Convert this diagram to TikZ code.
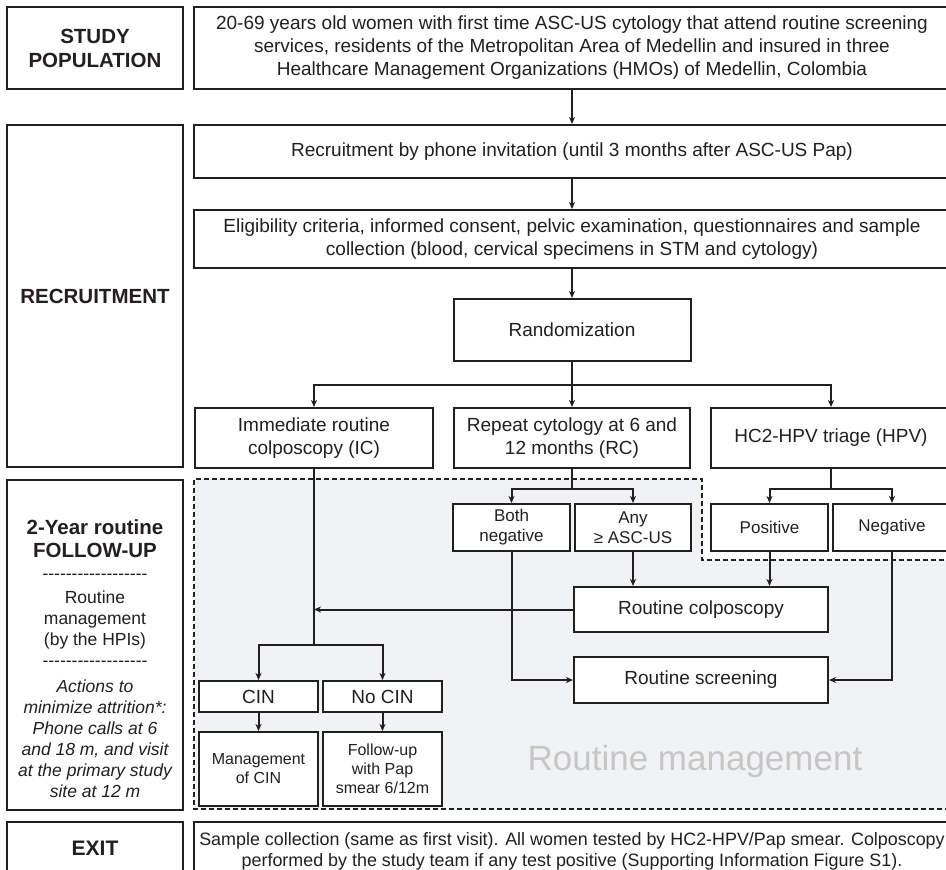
\documentclass[tikz,border=0pt]{standalone}
\usepackage{fontspec}
\setmainfont{Liberation Sans}
\usetikzlibrary{arrows.meta}
\newcommand\hh{\mbox{-}}
\definecolor{ink}{HTML}{231F20}
\definecolor{bgray}{HTML}{F1F2F4}
\definecolor{wm}{HTML}{C6C6C6}
\begin{document}
\begin{tikzpicture}[x=1pt,y=-1pt,
  box/.style={draw=ink, line width=2pt, fill=white, inner sep=0pt, align=center, text=ink, font=\fontsize{19}{23}\selectfont},
  sbox/.style={box, font=\fontsize{17}{20}\selectfont},
  tbox/.style={box, font=\fontsize{16}{19}\selectfont},
  head/.style={box, font=\fontsize{20.5}{24}\selectfont\bfseries},
  arr/.style={draw=ink, line width=2pt, -{Stealth[length=7pt,width=6pt,inset=2pt]}},
  ln/.style={draw=ink, line width=2pt},
  txt/.style={inner sep=0pt, align=center, text=ink}]
\useasboundingbox (0,0) rectangle (946,870);
% routine management region
\fill[bgray] (194,479) -- (702,479) -- (702,560) -- (960,560) -- (960,809) -- (194,809) -- cycle;
\draw[ink, line width=1.2pt, dash pattern=on 5pt off 3pt] (960,560) -- (702,560) -- (702,479) -- (194,479) -- (194,809) -- (960,809);
\node[txt, text=wm, font=\fontsize{35}{40}\selectfont] (wmtext) at (695,761) {Routine management};

% left column
\node[head, minimum width=176pt, minimum height=82pt] (L1) at (95,48) {STUDY\\POPULATION};
\node[head, minimum width=176pt, minimum height=342pt] (L2) at (95,296) {RECRUITMENT};
\node[box, minimum width=176pt, minimum height=330pt] (L3) at (95,645) {};
\node[head, minimum width=176pt, minimum height=58pt] (L4) at (95,851) {};
\node[txt, font=\fontsize{21}{24}\selectfont\bfseries] (exitlbl) at (95,848) {EXIT};
\node[txt, font=\fontsize{20.5}{23}\selectfont\bfseries] (fu1) at (95,538.5) {2-Year routine\\FOLLOW-UP};
\node[txt, font=\fontsize{17.5}{21}\selectfont] (dsh1) at (95,577) {\hh\hh\hh\hh\hh\hh\hh\hh\hh\hh\hh\hh\hh\hh\hh\hh\hh\hh};
\node[txt, font=\fontsize{17.5}{21}\selectfont] (fu2) at (95,620) {Routine\\management\\(by the HPIs)};
\node[txt, font=\fontsize{17.5}{21}\selectfont] (dsh2) at (95,664) {\hh\hh\hh\hh\hh\hh\hh\hh\hh\hh\hh\hh\hh\hh\hh\hh\hh\hh};
\node[txt, font=\fontsize{17.5}{21}\selectfont\itshape] (fu3) at (95,738.5) {Actions to\\minimize attrition*:\\Phone calls at 6\\and 18 m, and visit\\at the primary study\\site at 12 m};

% right column
\node[box, minimum width=756pt, minimum height=82pt] (top) at (572,48) {20-69 years old women with first time ASC-US cytology that attend routine screening\\services, residents of the Metropolitan Area of Medellin and insured in three\\Healthcare Management Organizations (HMOs) of Medellin, Colombia};
\node[box, minimum width=756pt, minimum height=53pt] (phone) at (572,151.5) {Recruitment by phone invitation (until 3 months after ASC-US Pap)};
\node[box, minimum width=756pt, minimum height=58pt] (elig) at (572,239) {Eligibility criteria, informed consent, pelvic examination, questionnaires and sample\\collection (blood, cervical specimens in STM and cytology)};
\node[box, minimum width=237pt, minimum height=62pt] (rand) at (572,330) {Randomization};
\node[box, minimum width=238pt, minimum height=60pt] (IC) at (314,438) {Immediate routine\\colposcopy (IC)};
\node[box, minimum width=236pt, minimum height=60pt] (RC) at (572,438) {Repeat cytology at 6 and\\12 months (RC)};
\node[box, minimum width=240pt, minimum height=60pt] (HPV) at (831,438) {HC2-HPV triage (HPV)};

\node[sbox, minimum width=117pt, minimum height=47pt] (both) at (511.5,527.5) {Both\\negative};
\node[sbox, minimum width=116pt, minimum height=47pt] (any) at (633,527.5) {Any\\≥ ASC-US};
\node[sbox, minimum width=117pt, minimum height=47pt] (pos) at (769.5,527.5) {Positive};
\node[sbox, minimum width=118pt, minimum height=47pt] (neg) at (892,527.5) {Negative};
\node[box, minimum width=254pt, minimum height=45pt] (colp) at (701,609.5) {Routine colposcopy};
\node[box, minimum width=254pt, minimum height=46pt] (screen) at (701,680) {Routine screening};

\node[box, minimum width=119pt, minimum height=31pt] (cin) at (258.5,696.5) {CIN};
\node[box, minimum width=119pt, minimum height=31pt] (nocin) at (382.5,696.5) {No CIN};
\node[tbox, minimum width=119pt, minimum height=74pt] (mgmt) at (258.5,769) {Management\\of CIN};
\node[tbox, minimum width=119pt, minimum height=74pt] (fup) at (382.5,769) {Follow-up\\with Pap\\smear 6/12m};

\node[box, minimum width=756pt, minimum height=58pt, font=\fontsize{17.9}{21}\selectfont] (exit) at (572,851) {Sample collection (same as first visit). All women tested by HC2-HPV/Pap smear. Colposcopy\\performed by the study team if any test positive (Supporting Information Figure S1).};

% branch points
\coordinate (b1) at (572,385);
\coordinate (b2) at (572,489);
\coordinate (b3) at (831,489);
\coordinate (b4) at (314,645);

% connectors
\draw[arr] (top.south -| phone.north) -- (phone.north);
\draw[arr] (phone.south) -- (elig.north);
\draw[arr] (elig.south) -- (rand.north);
\draw[ln] (rand.south) -- (b1);
\draw[arr] (b1) -| (IC.north);
\draw[arr] (b1) -- (RC.north);
\draw[arr] (b1) -| (HPV.north);
\draw[ln] (RC.south) -- (b2);
\draw[arr] (b2) -| (both.north);
\draw[arr] (b2) -| (any.north);
\draw[ln] (HPV.south) -- (b3);
\draw[arr] (b3) -| (pos.north);
\draw[arr] (b3) -| (neg.north);
\draw[arr] (any.south) -- (any.south |- colp.north);
\draw[arr] (pos.south) -- (pos.south |- colp.north);
\draw[arr] (colp.west) -- (colp.west -| IC.south);
\draw[arr] (both.south) |- (screen.west);
\draw[arr] (neg.south) |- (screen.east);
\draw[ln] (IC.south) -- (b4);
\draw[arr] (b4) -| (cin.north);
\draw[arr] (b4) -| (nocin.north);
\draw[arr] (cin.south) -- (mgmt.north);
\draw[arr] (nocin.south) -- (fup.north);
\end{tikzpicture}
\end{document}
